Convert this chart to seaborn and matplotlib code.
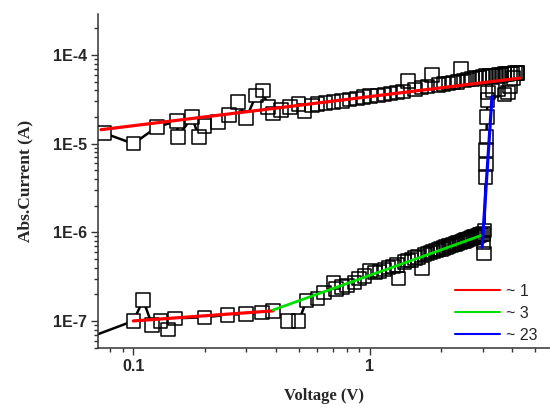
import numpy as np
import pandas as pd
import matplotlib
matplotlib.use("Agg")
import matplotlib.pyplot as plt
from matplotlib.ticker import LogLocator, FuncFormatter, NullFormatter
from matplotlib.lines import Line2D
import seaborn as sns

# forward sweep (0 V -> 4.2 V), switching near 3.1 V
up_v = [0.05, 0.10, 0.11, 0.12, 0.13, 0.14, 0.15, 0.20, 0.25, 0.30, 0.35, 0.39,
        0.45, 0.50, 0.54, 0.60, 0.64, 0.70, 0.72, 0.76, 0.80, 0.86, 0.90, 0.95,
        1.00, 1.05, 1.10, 1.15, 1.20, 1.25, 1.30, 1.32, 1.40, 1.45, 1.50, 1.55,
        1.60, 1.66, 1.70, 1.75, 1.80, 1.85, 1.90, 1.95, 2.00, 2.05, 2.10, 2.15,
        2.20, 2.25, 2.30, 2.35, 2.40, 2.45, 2.50, 2.55, 2.60, 2.65, 2.70, 2.75,
        2.80, 2.85, 2.90, 2.95, 3.00, 3.02, 3.03, 3.05, 3.08, 3.09, 3.10, 3.11,
        3.12, 3.14, 3.16, 3.30, 3.50, 3.70, 3.83, 3.90, 4.05, 4.20]
up_i = [5.0e-8, 1.0e-7, 1.72e-7, 9.0e-8, 1.0e-7, 8.0e-8, 1.07e-7, 1.1e-7, 1.17e-7, 1.2e-7, 1.25e-7, 1.3e-7,
        1.0e-7, 1.0e-7, 1.7e-7, 1.8e-7, 2.1e-7, 2.7e-7, 2.3e-7, 2.4e-7, 2.5e-7, 2.7e-7, 3.0e-7, 3.2e-7,
        3.7e-7, 3.5e-7, 3.6e-7, 3.8e-7, 4.0e-7, 4.1e-7, 4.3e-7, 3.0e-7, 4.6e-7, 4.8e-7, 4.9e-7, 5.1e-7,
        5.3e-7, 3.9e-7, 5.6e-7, 5.8e-7, 5.9e-7, 6.1e-7, 6.2e-7, 6.4e-7, 6.5e-7, 6.7e-7, 6.8e-7, 7.0e-7,
        7.1e-7, 7.3e-7, 7.4e-7, 7.6e-7, 7.7e-7, 7.9e-7, 8.0e-7, 8.2e-7, 8.3e-7, 8.5e-7, 8.6e-7, 8.8e-7,
        8.9e-7, 9.1e-7, 9.3e-7, 9.4e-7, 9.6e-7, 7.7e-7, 5.8e-7, 1.05e-6, 4.2e-6, 5.8e-6, 8.5e-6, 1.19e-5,
        2.0e-5, 3.1e-5, 3.8e-5, 4.0e-5, 4.1e-5, 3.6e-5, 3.8e-5, 4.4e-5, 5.5e-5, 6.3e-5]

# reverse sweep (4.2 V -> 0 V)
down_v = [4.20, 4.10, 4.00, 3.90, 3.80, 3.70, 3.60, 3.50, 3.40, 3.30, 3.20, 3.10,
          3.00, 2.90, 2.80, 2.70, 2.60, 2.50, 2.43, 2.35, 2.25, 2.15, 2.05, 1.95,
          1.83, 1.75, 1.65, 1.55, 1.45, 1.38, 1.30, 1.22, 1.15, 1.08, 1.00, 0.94,
          0.88, 0.82, 0.76, 0.70, 0.65, 0.60, 0.57, 0.53, 0.50, 0.46, 0.42, 0.39,
          0.37, 0.353, 0.33, 0.30, 0.277, 0.254, 0.228, 0.20, 0.189, 0.177, 0.154,
          0.153, 0.126, 0.10, 0.075]
down_i = [6.3e-5, 6.3e-5, 6.2e-5, 6.2e-5, 6.1e-5, 6.1e-5, 6.0e-5, 6.0e-5, 5.9e-5, 5.9e-5, 5.8e-5, 5.8e-5,
          5.7e-5, 5.6e-5, 5.5e-5, 5.4e-5, 5.3e-5, 5.2e-5, 7.1e-5, 5.0e-5, 4.9e-5, 4.8e-5, 4.7e-5, 4.6e-5,
          6.0e-5, 4.4e-5, 4.3e-5, 4.1e-5, 5.1e-5, 3.9e-5, 3.8e-5, 3.7e-5, 3.6e-5, 3.5e-5, 3.45e-5, 3.35e-5,
          3.25e-5, 3.15e-5, 3.05e-5, 2.95e-5, 2.9e-5, 2.8e-5, 2.7e-5, 2.35e-5, 2.8e-5, 2.6e-5, 2.4e-5, 2.2e-5,
          2.6e-5, 4.0e-5, 3.5e-5, 1.95e-5, 2.95e-5, 2.1e-5, 1.76e-5, 1.58e-5, 1.19e-5, 2.0e-5, 1.19e-5,
          1.8e-5, 1.55e-5, 1.0e-5, 1.32e-5]

# fitted slopes (log-log)
fit_hi_v, fit_hi_i = [0.073, 4.3], [1.44e-5, 5.5e-5]
fit_lo_v, fit_lo_i = [0.10, 0.39], [1.0e-7, 1.3e-7]
fit_mid_v, fit_mid_i = [0.39, 2.98], [1.33e-7, 9.3e-7]
fit_sw_v, fit_sw_i = [2.98, 3.28], [6.8e-7, 3.4e-5]

legend_labels = ["~ 1", "~ 3", "~ 23"]

sns.set_theme(style="ticks")

fig = plt.figure(figsize=(5.5, 4.04), dpi=100)
ax = fig.add_axes([0.178, 0.139, 0.822, 0.826])
ax.set_xscale("log")
ax.set_yscale("log")

# connecting line, then squares that hide it (Origin-style line + symbol)
for vv, ii in [(up_v, up_i), (down_v, down_i)]:
    sns.lineplot(x=vv, y=ii, ax=ax, color="black", linewidth=1.8, sort=False,
                 estimator=None, zorder=1)
for vv, ii in [(up_v, up_i), (down_v, down_i)]:
    sns.scatterplot(x=vv, y=ii, ax=ax, marker="s", s=95, color="white",
                    edgecolor="none", linewidth=0, zorder=2)
for vv, ii in [(up_v, up_i), (down_v, down_i)]:
    sns.scatterplot(x=vv, y=ii, ax=ax, marker="s", s=95, facecolor="none",
                    edgecolor="black", linewidth=1.1, zorder=3)

sns.lineplot(x=fit_hi_v, y=fit_hi_i, ax=ax, color="#ff0000", linewidth=2.3, zorder=4)
sns.lineplot(x=fit_lo_v, y=fit_lo_i, ax=ax, color="#ff0000", linewidth=2.3, zorder=4)
sns.lineplot(x=fit_mid_v, y=fit_mid_i, ax=ax, color="#00e000", linewidth=2.0, zorder=4)
sns.lineplot(x=fit_sw_v, y=fit_sw_i, ax=ax, color="#0000ff", linewidth=2.3, zorder=4)

ax.set_xlim(0.0708, 5.77)
ax.set_ylim(4.97e-8, 2.9e-4)

ax.xaxis.set_major_locator(LogLocator(base=10))
ax.xaxis.set_minor_locator(LogLocator(base=10, subs=np.arange(2, 10)))
ax.xaxis.set_minor_formatter(NullFormatter())
ax.xaxis.set_major_formatter(FuncFormatter(lambda v, p: f"{v:g}"))
ax.yaxis.set_major_locator(LogLocator(base=10))
ax.yaxis.set_minor_locator(LogLocator(base=10, subs=np.arange(2, 10)))
ax.yaxis.set_minor_formatter(NullFormatter())
ax.yaxis.set_major_formatter(FuncFormatter(lambda v, p: f"1E{int(round(np.log10(v)))}"))

ax.tick_params(which="major", direction="out", length=5, width=1, color="#333333", pad=3)
ax.tick_params(which="minor", direction="out", length=3, width=1, color="#333333")
for lab in ax.get_xticklabels() + ax.get_yticklabels():
    lab.set_fontfamily("Liberation Sans")
    lab.set_fontweight("bold")
    lab.set_fontsize(11.5)

sns.despine(ax=ax)
for s in ["left", "bottom"]:
    ax.spines[s].set_color("#333333")
    ax.spines[s].set_linewidth(1.1)

ax.set_xlabel("Voltage (V)", family="Liberation Serif", weight="bold", fontsize=12, labelpad=10)
ax.set_ylabel("Abs.Current (A)", family="Liberation Serif", weight="bold", fontsize=12.5, labelpad=14)

handles = [Line2D([], [], color="#ff0000", lw=1.5), Line2D([], [], color="#00e000", lw=1.5),
           Line2D([], [], color="#0000ff", lw=1.5)]
ax.legend(handles, legend_labels, loc="upper left", bbox_to_anchor=(0.812, 0.318),
          bbox_transform=fig.transFigure, frameon=False, borderpad=0, handlelength=2.85,
          handletextpad=0.35, labelspacing=0.45, prop={"family": "Liberation Sans", "size": 11.5})

fig.savefig("out.png", dpi=100, facecolor="white")
